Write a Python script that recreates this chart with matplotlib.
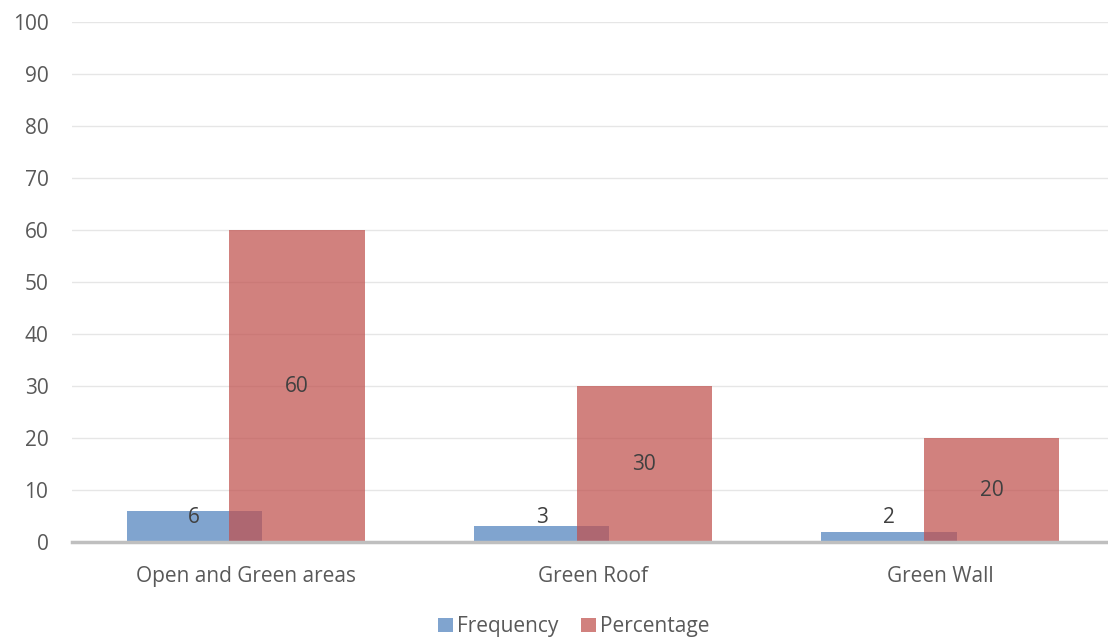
import numpy as np
import matplotlib.pyplot as plt

plt.rcParams['font.family'] = ['Open Sans', 'DejaVu Sans']

categories = ['Open and Green areas', 'Green Roof', 'Green Wall']
frequency = [6, 3, 2]
percentage = [60, 30, 20]

blue = '#4F81BD'
red = '#C0504D'
alpha = 0.72

fig = plt.figure(figsize=(11.08, 6.37), dpi=100)
ax = fig.add_axes([72 / 1108, 95 / 637, 1042 / 1108, 520 / 637])

x = np.arange(len(categories))
width = 0.39
offset = 0.148

bars1 = ax.bar(x - offset, frequency, width, color=blue, alpha=alpha, label='Frequency', zorder=2)
bars2 = ax.bar(x + offset, percentage, width, color=red, alpha=alpha, label='Percentage', zorder=3)

# value labels in the middle of each bar, kept clear of the axis line
for bars in (bars1, bars2):
    for bar in bars:
        h = bar.get_height()
        ax.text(bar.get_x() + bar.get_width() / 2, max(h / 2, 4.8), f'{h:g}',
                ha='center', va='center', fontsize=15, color='#404040', zorder=4)

ax.set_xlim(-0.5, 2.5)
ax.set_ylim(0, 100)
ax.set_yticks(np.arange(0, 101, 10))
ax.set_xticks(x)
ax.set_xticklabels(categories)
ax.tick_params(axis='both', length=0, labelsize=15, colors='#595959')
ax.tick_params(axis='x', pad=17)
ax.tick_params(axis='y', pad=17)
ax.grid(axis='y', color='#E6E6E6', linewidth=1, zorder=0)
ax.set_axisbelow(True)
for side in ('top', 'right', 'left'):
    ax.spines[side].set_visible(False)
ax.spines['bottom'].set_color('#BFBFBF')
ax.spines['bottom'].set_linewidth(2.5)
ax.spines['bottom'].set_zorder(5)

fig.legend(loc='lower center', bbox_to_anchor=(0.518, -0.03), ncol=2, frameon=False,
           fontsize=15, labelcolor='#595959', handlelength=0.7, handleheight=0.7,
           handletextpad=0.2, columnspacing=1.1)

fig.savefig('out.png', dpi=100)
